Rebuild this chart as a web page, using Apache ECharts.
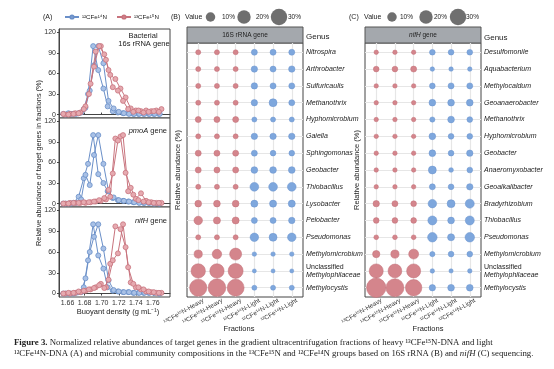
<!DOCTYPE html>
<html><head><meta charset="utf-8">
<script src="https://cdn.jsdelivr.net/npm/echarts@6/dist/echarts.min.js"></script>
<style>html,body{margin:0;padding:0;background:#fff}#c{width:554px;height:369px}</style>
</head><body><div id="c"></div>
<script>
// ---------- Panel A data ----------
const xTicksA = [1.66, 1.68, 1.70, 1.72, 1.74, 1.76];
const yTicksA = [0, 30, 60, 90, 120];
// buoyant densities of the gradient fractions (two light and two heavy replicate tubes)
const densL1 = [1.655,1.661,1.667,1.673,1.679,1.684,1.690,1.696,1.702,1.707,1.713,1.719,1.725,1.731,1.737,1.743,1.749,1.755,1.761,1.767];
const densL2 = [1.658,1.664,1.670,1.676,1.681,1.686,1.691,1.696,1.702,1.708,1.714,1.720,1.726,1.732,1.738,1.744,1.750,1.756,1.762,1.768];
const densH1 = [1.657,1.663,1.669,1.675,1.681,1.687,1.693,1.699,1.705,1.710,1.716,1.722,1.728,1.734,1.740,1.746,1.752,1.758,1.764,1.770];
const densH2 = [1.655,1.661,1.667,1.673,1.679,1.685,1.691,1.697,1.703,1.708,1.713,1.719,1.725,1.731,1.737,1.743,1.749,1.755,1.761,1.767];
// 16S rRNA gene
const s16L1 = [1,2,1,2,8,30,100,65,38,12,5,3,2,2,1,1,1,1,1,1];
const s16L2 = [0,1,1,3,10,35,72,100,75,20,9,4,2,1,1,1,1,1,1,1];
const s16H1 = [0,1,2,3,12,45,92,100,80,58,52,38,25,9,6,5,6,5,6,8];
const s16H2 = [1,0,1,2,8,30,70,100,88,65,40,35,20,8,4,6,3,4,5,4];
// pmoA gene
const pmoL1 = [0,0,1,10,37,58,100,43,30,18,8,5,4,3,2,2,1,1,0,0];
const pmoL2 = [0,0,1,6,42,27,71,100,58,18,9,5,4,3,2,1,1,1,0,0];
const pmoH1 = [0,1,1,1,1,2,3,4,6,10,95,98,45,23,7,15,4,2,1,1];
const pmoH2 = [0,0,1,1,2,2,3,5,8,20,44,92,100,18,13,5,3,2,1,1];
// nifH gene
const nifL1 = [0,0,0,2,9,48,100,55,36,9,4,3,2,2,1,1,1,1,1,0];
const nifL2 = [0,0,1,2,22,60,82,100,65,19,5,3,2,2,1,1,1,1,1,0];
const nifH1 = [0,0,1,2,4,6,9,14,9,43,97,93,67,16,9,6,3,2,1,1];
const nifH2 = [0,1,1,3,4,6,8,12,8,20,48,58,100,38,14,9,6,3,2,1];

// ---------- Panel B / C data ----------
const fractionLabels = ['\u00b9\u00b3CFe\u00b9\u2075N-Heavy','\u00b9\u00b3CFe\u00b9\u2075N-Heavy','\u00b9\u00b3CFe\u00b9\u2075N-Heavy','\u00b9\u00b2CFe\u00b9\u2074N-Light','\u00b9\u00b2CFe\u00b9\u2074N-Light','\u00b9\u00b2CFe\u00b9\u2074N-Light'];
const genera16S = ['Nitrospira','Arthrobacter','Sulfuricaulis','Methanothrix','Hyphomicrobium','Gaiella','Sphingomonas','Geobacter','Thiobacillus','Lysobacter','Pelobacter','Pseudomonas','Methylomicrobium','Unclassified Methylophilaceae','Methylocystis'];
const heavy16S = [[2.8,2.8,2.8],[2.8,2.8,2.8],[2.8,2.8,2.8],[2.8,2.8,2.8],[4,4,4],[2.8,2.8,2.8],[4,4,4],[4,4,4],[2.8,2.8,2.8],[5,5,5],[8,5.5,5.5],[2.8,2.8,2.8],[7.5,10,16],[23,23,25],[33,35,32]];
const light16S = [[4,4,4],[4.5,4,4.5],[4.5,4,4],[4.5,7,4],[2.8,2.8,2.8],[4.5,4.5,4.5],[4,3.5,3.5],[5,5,5],[8.5,8.5,8.5],[5.5,5.5,5.5],[4,4,4.5],[8,7,8],[2.2,2.2,2.2],[1.8,1.8,1.8],[2.8,2.8,2.8]];
const generaNifH = ['Desulfomonile','Aquabacterium','Methylocaldum','Geoanaerobacter','Methanothrix','Hyphomicrobium','Geobacter','Anaeromyxobacter','Geoalkalibacter','Bradyrhizobium','Thiobacillus','Pseudomonas','Methylomicrobium','Unclassified Methylophilaceae','Methylocystis'];
const heavyNifH = [[2.2,2.2,2.2],[3.6,3.6,4],[2.2,2.2,2.2],[2.2,2.2,2.2],[2.2,2.2,2.2],[2.2,2.2,2.2],[2.2,2.2,2.2],[2.2,2.2,2.2],[2.2,2.2,2.2],[4.5,4,3.6],[3.6,3.6,3.6],[2.5,2.5,2.5],[6,7.5,11],[22,21,22],[42,36,30]];
const lightNifH = [[3.6,3.6,3.6],[2.2,2.2,2.2],[3.6,4,4],[5,5,5],[3,5,3.6],[5,3.6,3.6],[5,3.6,4.5],[7,2.5,3.6],[4,3.6,4.5],[8,7,9],[9,5,9],[10,5.5,10],[3,3.6,3.6],[2.2,2,2.2],[4.5,5,5]];
const legendValues = [10, 20, 30];

// ---------- build ----------
const FONT = '"Liberation Sans", Arial, sans-serif';
const SERIF = '"Liberation Serif", serif';
const BLUE = '#6a8fc8', BLUEF = '#a9c1e6', RED = '#c8737d', REDF = '#e6aab0';
const BUB_RED = '#d4858c', BUB_BLUE = '#7ea7dd';
const sz = v => 3.0 * Math.sqrt(v);
const pairs = (d, v) => d.map((x, i) => [x, v[i]]);
const NL = '\u00b9\u00b2CFe\u00b9\u2074N', NH = '\u00b9\u00b3CFe\u00b9\u2075N';

const grids = [
  {left:59, width:111, top:29, height:89},
  {left:59, width:111, top:118, height:89},
  {left:59, width:111, top:207, height:90},
  {left:187, width:116, top:43, height:254},
  {left:365, width:116, top:43, height:254}
].map(g => Object.assign({show:true, borderColor:'#444', borderWidth:1, backgroundColor:'#fff'}, g));

const xAxes = [], yAxes = [];
for (let i = 0; i < 3; i++) {
  xAxes.push({type:'value', gridIndex:i, min:1.65, max:1.78,
    axisLine:{show:true, lineStyle:{color:'#444'}},
    axisTick:{show:true, customValues:xTicksA, length:2, inside:i<2, lineStyle:{color:'#444'}},
    axisLabel:{show:i===2, customValues:xTicksA, fontSize:7, color:'#333', margin:3, formatter:v=>v.toFixed(2)},
    splitLine:{show:false}});
  yAxes.push({type:'value', gridIndex:i, min:-5, max:125,
    axisLine:{show:true, lineStyle:{color:'#444'}},
    axisTick:{show:true, customValues:yTicksA, length:2, lineStyle:{color:'#444'}},
    axisLabel:{show:true, customValues:yTicksA, fontSize:7, color:'#333', margin:3},
    splitLine:{show:false}});
}
const rowFmt = names => v => {
  const n = names[Math.round(v)];
  if (n.indexOf('Unclassified') === 0) return '{n|Unclassified}\n{i|' + n.split(' ')[1] + '}';
  return '{i|' + n + '}';
};
const colIdx = [0,1,2,3,4,5];
[[3, genera16S], [4, generaNifH]].forEach(([gi, names]) => {
  xAxes.push({type:'value', gridIndex:gi, min:-0.6, max:5.6,
    axisLine:{show:false}, axisTick:{show:false, customValues:colIdx},
    axisLabel:{show:true, customValues:colIdx.map(c=>c+0.28), rotate:30, fontSize:6.3, color:'#333', margin:3, formatter:v=>fractionLabels[Math.floor(v)]},
    splitLine:{show:true, lineStyle:{color:'#e6e6e6', width:1.2}}});
  yAxes.push({type:'value', gridIndex:gi, min:-0.55, max:14.55, inverse:true, position:'right',
    axisLine:{show:false}, axisTick:{show:false, customValues:[...Array(15).keys()]},
    axisLabel:{show:true, customValues:[...Array(15).keys()], margin:3, formatter:rowFmt(names),
      rich:{i:{fontStyle:'italic', fontSize:7, color:'#222', lineHeight:8}, n:{fontSize:7, color:'#222', lineHeight:8}}},
    splitLine:{show:true, lineStyle:{color:'#e6e6e6', width:1.2}}});
});

const series = [];
const genes = [[s16L1,s16L2,s16H1,s16H2],[pmoL1,pmoL2,pmoH1,pmoH2],[nifL1,nifL2,nifH1,nifH2]];
genes.forEach((g, i) => {
  [[densL1,g[0],0],[densL2,g[1],0],[densH1,g[2],1],[densH2,g[3],1]].forEach(([d,v,h]) => {
    series.push({type:'line', name:h?NH:NL, xAxisIndex:i, yAxisIndex:i, data:pairs(d,v),
      symbol:'circle', symbolSize:5, showSymbol:true,
      lineStyle:{color:h?RED:BLUE, width:1},
      itemStyle:{color:h?REDF:BLUEF, borderColor:h?RED:BLUE, borderWidth:0.8},
      animation:false, z:h?3:2});
  });
});
function bubbles(gi, heavy, light) {
  const hd = [], ld = [];
  heavy.forEach((r, i) => r.forEach((v, j) => hd.push([j, i, v])));
  light.forEach((r, i) => r.forEach((v, j) => ld.push([j + 3, i, v])));
  series.push({type:'scatter', xAxisIndex:gi, yAxisIndex:gi, data:hd, symbolSize:p=>sz(p[2]),
    itemStyle:{color:BUB_RED, borderColor:'#c06f77', borderWidth:0.5, opacity:1}, animation:false});
  series.push({type:'scatter', xAxisIndex:gi, yAxisIndex:gi, data:ld, symbolSize:p=>sz(p[2]),
    itemStyle:{color:BUB_BLUE, borderColor:'#6a93cc', borderWidth:0.5, opacity:1}, animation:false});
}
bubbles(3, heavy16S, light16S);
bubbles(4, heavyNifH, lightNifH);

const T = (x, y, text, o) => ({type:'text', x, y, style:Object.assign({text, fontSize:7, fill:'#222', fontFamily:FONT, align:'left', verticalAlign:'middle'}, o||{})});
const graphic = [
  T(43, 17, '(A)'), T(171, 17, '(B)'), T(349, 17, '(C)'),
  T(143, 36, 'Bacterial', {align:'center', fontSize:7.5}),
  T(144, 44, '16s rRNA gene', {align:'center', fontSize:7.5}),
  T(167, 131, '{i|pmoA} gene', {align:'right', fontSize:7.5, rich:{i:{fontStyle:'italic', fontSize:7.5, fontFamily:FONT}}}),
  T(167, 221, '{i|nifH} gene', {align:'right', fontSize:7.5, rich:{i:{fontStyle:'italic', fontSize:7.5, fontFamily:FONT}}}),
  T(118, 312, 'Buoyant density (g mL\u207b\u00b9)', {align:'center', fontSize:7.5}),
  {type:'text', x:39, y:163, rotation:Math.PI/2, style:{text:'Relative abundance of target genes in fractions (%)', fontSize:7.3, fill:'#222', fontFamily:FONT, align:'center', verticalAlign:'middle'}},
  {type:'text', x:178, y:170, rotation:Math.PI/2, style:{text:'Relative abundance (%)', fontSize:7.5, fill:'#222', fontFamily:FONT, align:'center', verticalAlign:'middle'}},
  {type:'text', x:357, y:170, rotation:Math.PI/2, style:{text:'Relative abundance (%)', fontSize:7.5, fill:'#222', fontFamily:FONT, align:'center', verticalAlign:'middle'}},
  {type:'rect', shape:{x:187, y:27, width:116, height:16}, style:{fill:'#a4a8ad', stroke:'#555', lineWidth:1}},
  {type:'rect', shape:{x:365, y:27, width:116, height:16}, style:{fill:'#a4a8ad', stroke:'#555', lineWidth:1}},
  T(245, 35, '16S rRNA gene', {align:'center', fontSize:6.5}),
  T(423, 35, '{i|nifH} gene', {align:'center', fontSize:6.5, rich:{i:{fontStyle:'italic', fontSize:6.5, fontFamily:FONT}}}),
  T(306, 37, 'Genus', {fontSize:8}), T(484, 38, 'Genus', {fontSize:8}),
  T(239, 329, 'Fractions', {align:'center', fontSize:7.5}),
  T(428, 329, 'Fractions', {align:'center', fontSize:7.5}),
  T(185, 17, 'Value', {fontSize:7}), T(364, 17, 'Value', {fontSize:7}),
  {type:'text', x:14, y:343, style:{text:'{b|Figure 3.} Normalized relative abundances of target genes in the gradient ultracentrifugation fractions of heavy \u00b9\u00b3CFe\u00b9\u2075N-DNA and light', fontSize:8.8, fill:'#222', fontFamily:SERIF, verticalAlign:'middle', rich:{b:{fontWeight:'bold', fontSize:8.8, fontFamily:SERIF}}}},
  {type:'text', x:14, y:354, style:{text:'\u00b9\u00b2CFe\u00b9\u2074N-DNA (A) and microbial community compositions in the \u00b9\u00b3CFe\u00b9\u2075N and \u00b9\u00b2CFe\u00b9\u2074N groups based on 16S rRNA (B) and {i|nifH} (C) sequencing.', fontSize:8.8, fill:'#222', fontFamily:SERIF, verticalAlign:'middle', rich:{i:{fontStyle:'italic', fontSize:8.8, fontFamily:SERIF}}}}
];
// bubble-size legends
[[210.5, 244, 279, 222, 256, 288], [392, 426, 458, 400, 434, 466]].forEach(p => {
  legendValues.forEach((v, k) => {
    graphic.push({type:'circle', shape:{cx:p[k], cy:17, r:sz(v)/2}, style:{fill:'#6f6f6f'}});
    graphic.push(T(p[k+3], 17, v + '%', {fontSize:6.5}));
  });
});

const chart = echarts.init(document.getElementById('c'), null, {renderer:'canvas', width:554, height:369});
chart.setOption({
  animation:false,
  textStyle:{fontFamily:FONT},
  grid:grids, xAxis:xAxes, yAxis:yAxes, series,
  legend:{data:[NL, NH], left:64, top:14, itemWidth:14, itemHeight:4, itemGap:9, padding:0,
    textStyle:{fontSize:6.2, color:'#222', padding:[0,0,0,-2]}},
  graphic
});
</script></body></html>
